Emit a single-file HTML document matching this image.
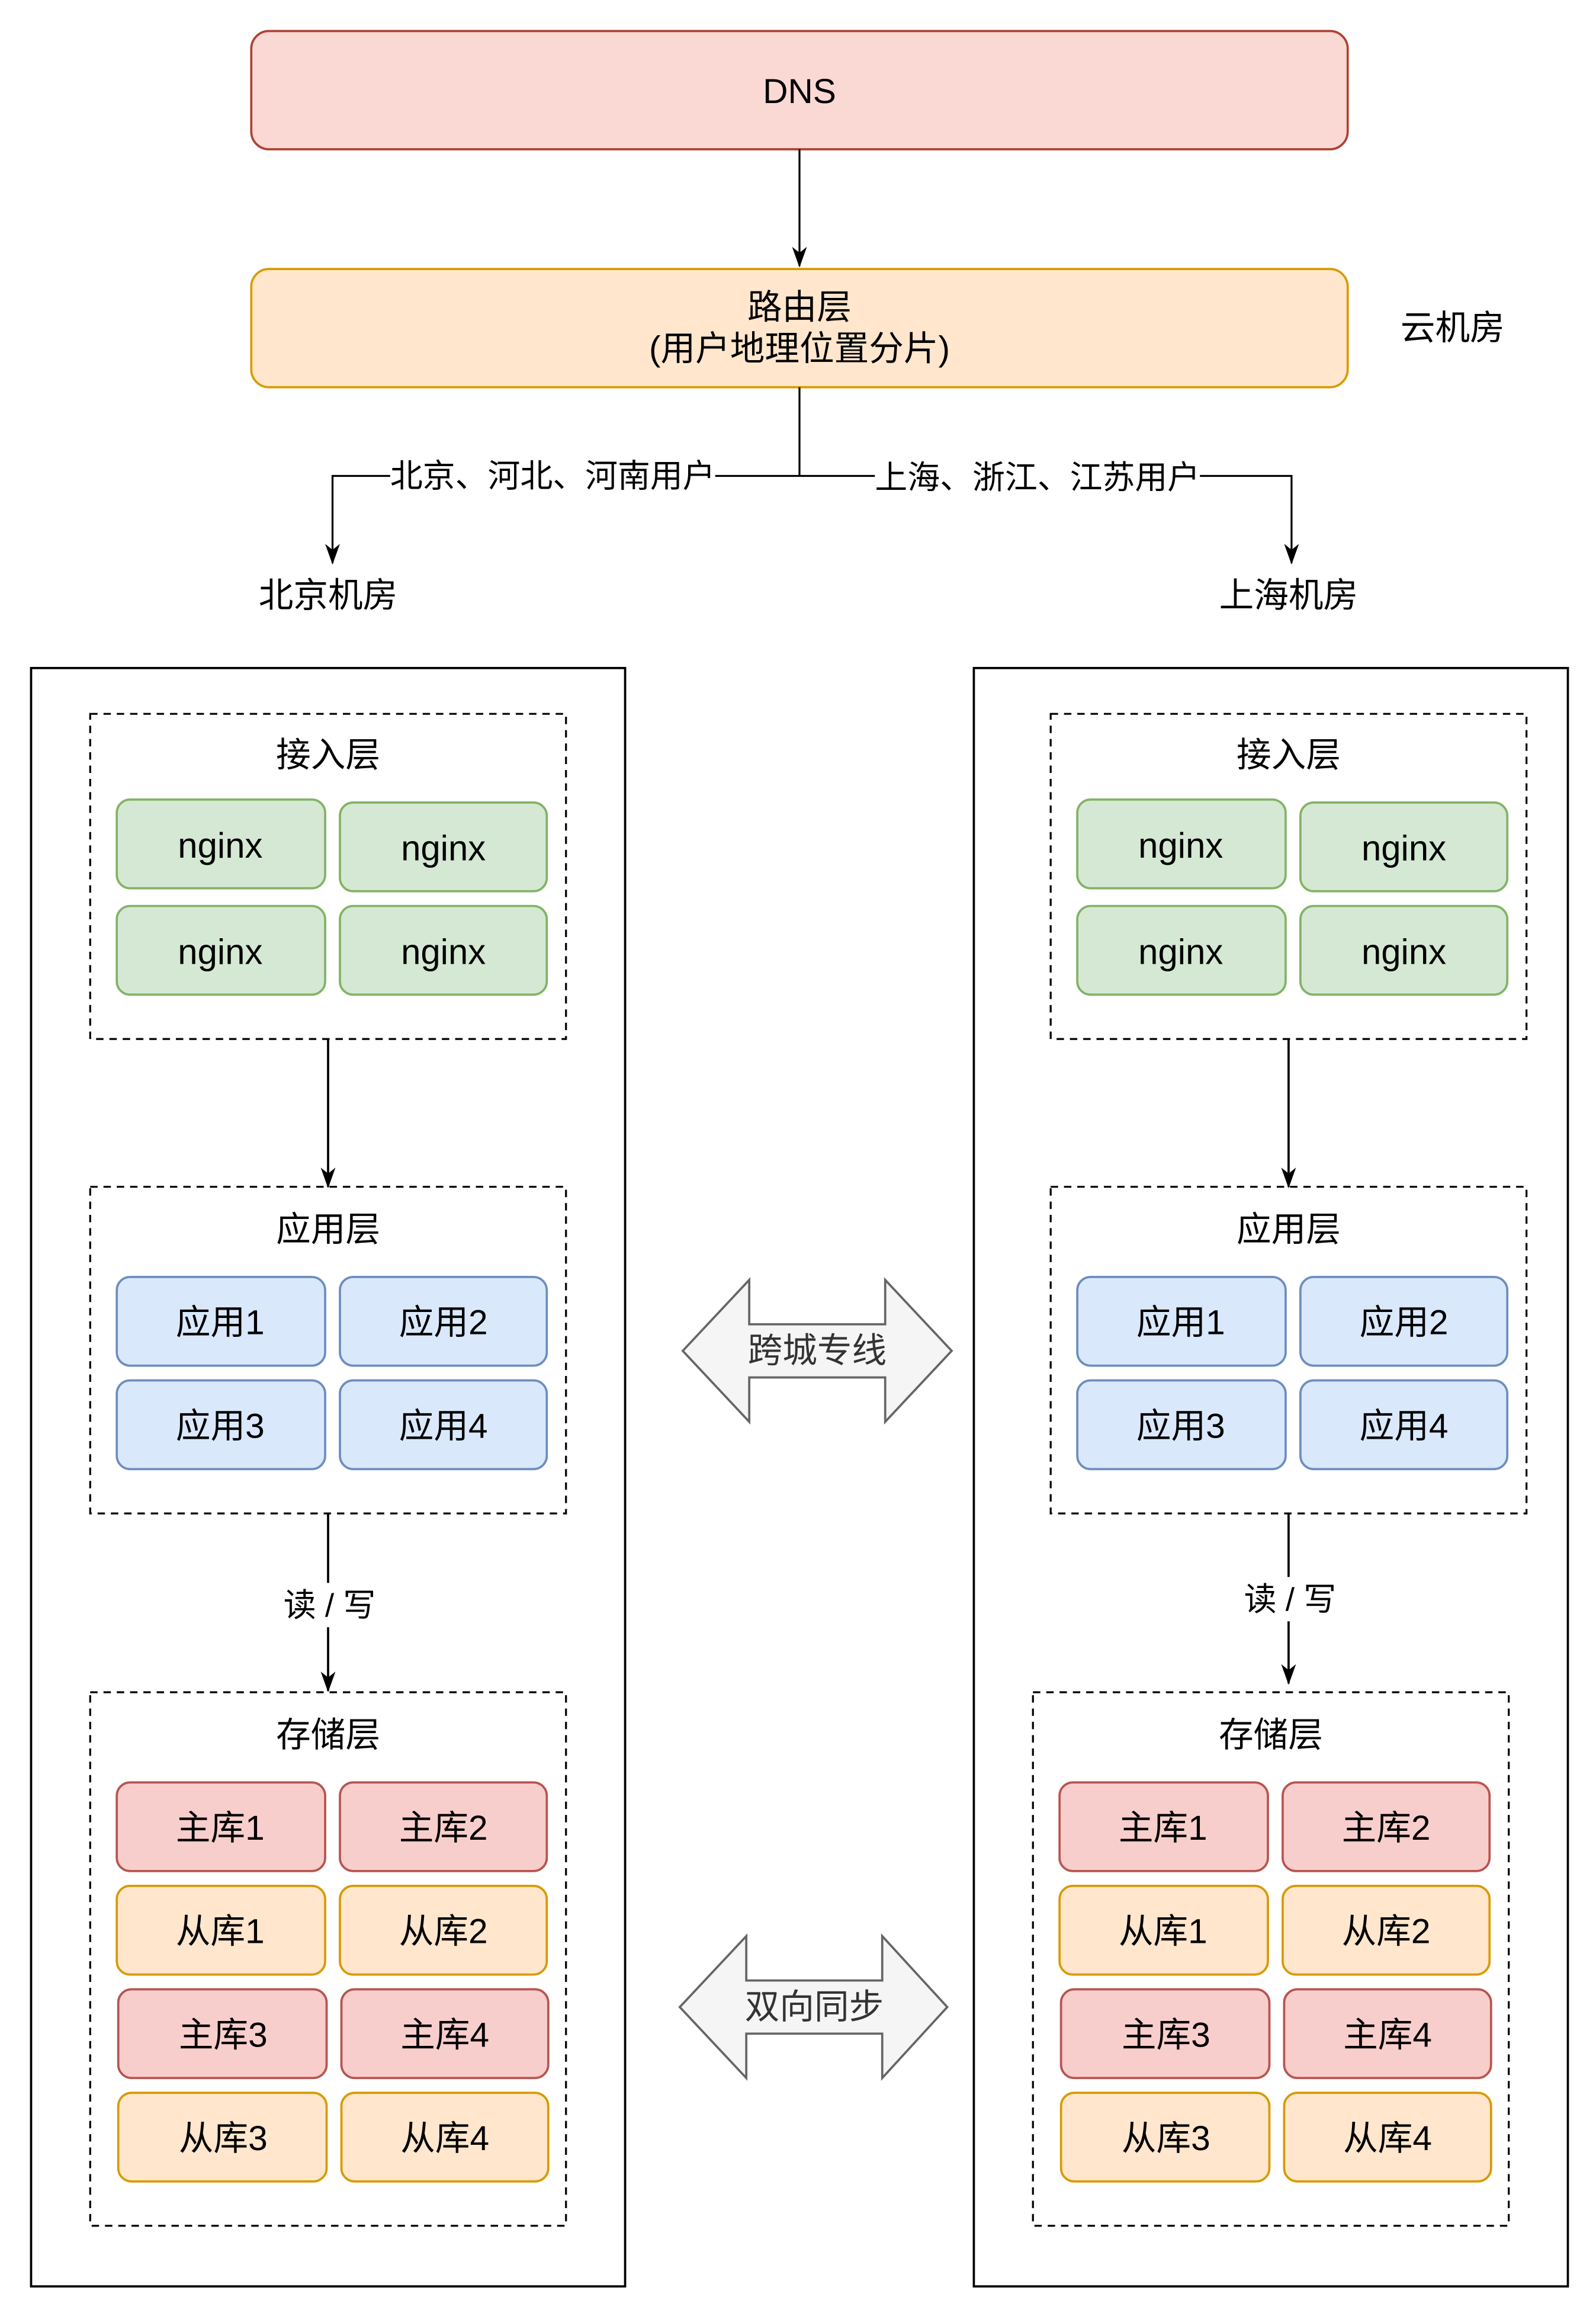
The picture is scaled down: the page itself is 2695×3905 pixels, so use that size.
<!DOCTYPE html>
<html><head><meta charset="utf-8"><style>
html,body{margin:0;padding:0;background:#fff;}
svg{display:block;}
text{font-family:"Liberation Sans","Noto Sans CJK SC",sans-serif;fill:#000;text-anchor:middle;dominant-baseline:central;}
</style></head><body>
<svg width="2695" height="3905" viewBox="0 0 1080 1565" xmlns="http://www.w3.org/2000/svg">
<defs>
<marker id="ah" viewBox="0 0 14 10" refX="13" refY="5" markerWidth="14" markerHeight="10" markerUnits="userSpaceOnUse" orient="auto">
<path d="M0,0 L14,5 L0,10 L4,5 Z" fill="#000"/>
</marker>
</defs>
<rect width="1080" height="1565" fill="#fff"/>
<!-- DNS -->
<rect x="170" y="21" width="742" height="80" rx="12" fill="#fad9d5" stroke="#ae4132" stroke-width="1.5"/>
<text x="541" y="62" font-size="23.5">DNS</text>
<line x1="541" y1="101" x2="541" y2="180" stroke="#000" stroke-width="1.3" marker-end="url(#ah)"/>
<rect x="170" y="182" width="742" height="80" rx="12" fill="#ffe6cc" stroke="#d79b00" stroke-width="1.5"/>
<text x="541" y="208" font-size="23.5">路由层</text>
<text x="541" y="236" font-size="23.5">(用户地理位置分片)</text>
<text x="983" y="222" font-size="23.5">云机房</text>
<!-- routing lines -->
<line x1="541" y1="262" x2="541" y2="322" stroke="#000" stroke-width="1.3"/>
<path d="M541,322 H225 V381" fill="none" stroke="#000" stroke-width="1.3" marker-end="url(#ah)"/>
<path d="M541,322 H874 V381" fill="none" stroke="#000" stroke-width="1.3" marker-end="url(#ah)"/>
<rect x="264" y="309" width="220" height="26" fill="#fff"/>
<text x="374" y="322" font-size="22">北京、河北、河南用户</text>
<rect x="592" y="309" width="220" height="26" fill="#fff"/>
<text x="702" y="323" font-size="22">上海、浙江、江苏用户</text>
<text x="222" y="403" font-size="23.5">北京机房</text>
<text x="872" y="403" font-size="23.5">上海机房</text>
<!-- containers -->
<rect x="21" y="452" width="402" height="1095" fill="none" stroke="#000" stroke-width="1.5"/>
<rect x="659" y="452" width="402" height="1095" fill="none" stroke="#000" stroke-width="1.5"/>
<g id="L">
<rect x="61" y="483" width="322" height="220" fill="none" stroke="#000" stroke-width="1.3" stroke-dasharray="5,4"/>
<text x="222" y="511" font-size="23.5">接入层</text>
<g font-size="24">
<rect x="79" y="541" width="141" height="60" rx="9" fill="#d5e8d4" stroke="#82b366" stroke-width="1.5"/><text x="149" y="572">nginx</text>
<rect x="230" y="543" width="140" height="60" rx="9" fill="#d5e8d4" stroke="#82b366" stroke-width="1.5"/><text x="300" y="574">nginx</text>
<rect x="79" y="613" width="141" height="60" rx="9" fill="#d5e8d4" stroke="#82b366" stroke-width="1.5"/><text x="149" y="644">nginx</text>
<rect x="230" y="613" width="140" height="60" rx="9" fill="#d5e8d4" stroke="#82b366" stroke-width="1.5"/><text x="300" y="644">nginx</text>
</g>
<line x1="222" y1="703" x2="222" y2="803" stroke="#000" stroke-width="1.5" marker-end="url(#ah)"/>
<rect x="61" y="803" width="322" height="221" fill="none" stroke="#000" stroke-width="1.3" stroke-dasharray="5,4"/>
<text x="222" y="832" font-size="23.5">应用层</text>
<g font-size="23.5">
<rect x="79" y="864" width="141" height="60" rx="9" fill="#dae8fc" stroke="#6c8ebf" stroke-width="1.5"/><text x="149" y="895">应用1</text>
<rect x="230" y="864" width="140" height="60" rx="9" fill="#dae8fc" stroke="#6c8ebf" stroke-width="1.5"/><text x="300" y="895">应用2</text>
<rect x="79" y="934" width="141" height="60" rx="9" fill="#dae8fc" stroke="#6c8ebf" stroke-width="1.5"/><text x="149" y="965">应用3</text>
<rect x="230" y="934" width="140" height="60" rx="9" fill="#dae8fc" stroke="#6c8ebf" stroke-width="1.5"/><text x="300" y="965">应用4</text>
</g>
</g>
<line x1="222" y1="1024" x2="222" y2="1144" stroke="#000" stroke-width="1.5" marker-end="url(#ah)"/>
<rect x="188" y="1071" width="70" height="30" fill="#fff"/>
<text x="223" y="1086" font-size="22">读 / 写</text>
<use href="#L" x="650" y="0"/>
<line x1="872" y1="1024" x2="872" y2="1139" stroke="#000" stroke-width="1.5" marker-end="url(#ah)"/>
<rect x="838" y="1067" width="70" height="30" fill="#fff"/>
<text x="873" y="1082" font-size="22">读 / 写</text>
<!-- storage -->
<g id="S">
<rect x="61" y="1145" width="322" height="361" fill="none" stroke="#000" stroke-width="1.3" stroke-dasharray="5,4"/>
<text x="222" y="1174" font-size="23.5">存储层</text>
<g font-size="23.5">
<rect x="79" y="1206" width="141" height="60" rx="9" fill="#f8cecc" stroke="#b85450" stroke-width="1.5"/><text x="149" y="1237">主库1</text>
<rect x="230" y="1206" width="140" height="60" rx="9" fill="#f8cecc" stroke="#b85450" stroke-width="1.5"/><text x="300" y="1237">主库2</text>
<rect x="79" y="1276" width="141" height="60" rx="9" fill="#ffe6cc" stroke="#d79b00" stroke-width="1.5"/><text x="149" y="1307">从库1</text>
<rect x="230" y="1276" width="140" height="60" rx="9" fill="#ffe6cc" stroke="#d79b00" stroke-width="1.5"/><text x="300" y="1307">从库2</text>
<rect x="80" y="1346" width="141" height="60" rx="9" fill="#f8cecc" stroke="#b85450" stroke-width="1.5"/><text x="151" y="1377">主库3</text>
<rect x="231" y="1346" width="140" height="60" rx="9" fill="#f8cecc" stroke="#b85450" stroke-width="1.5"/><text x="301" y="1377">主库4</text>
<rect x="80" y="1416" width="141" height="60" rx="9" fill="#ffe6cc" stroke="#d79b00" stroke-width="1.5"/><text x="151" y="1447">从库3</text>
<rect x="231" y="1416" width="140" height="60" rx="9" fill="#ffe6cc" stroke="#d79b00" stroke-width="1.5"/><text x="301" y="1447">从库4</text>
</g>
</g>
<use href="#S" x="638" y="0"/>
<!-- double arrows -->
<path d="M462,914 L507,866 L507,896 L599,896 L599,866 L644,914 L599,962 L599,932 L507,932 L507,962 Z" fill="#f5f5f5" stroke="#666" stroke-width="1.5"/>
<text x="553" y="914" font-size="23.5" style="fill:#333">跨城专线</text>
<path d="M460,1358 L505,1310 L505,1340 L597,1340 L597,1310 L641,1358 L597,1406 L597,1376 L505,1376 L505,1406 Z" fill="#f5f5f5" stroke="#666" stroke-width="1.5"/>
<text x="551" y="1358" font-size="23.5" style="fill:#333">双向同步</text>
</svg>
</body></html>
